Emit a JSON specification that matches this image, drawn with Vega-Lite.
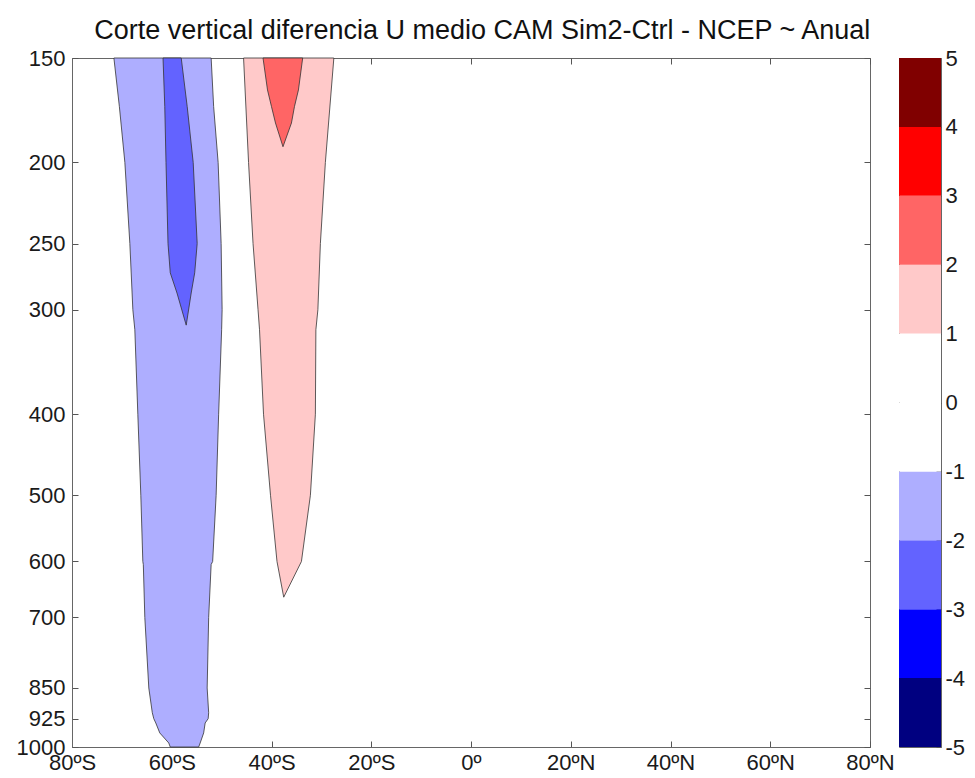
{
"$schema":"https://vega.github.io/schema/vega-lite/v6.json",
"background":"white",
"padding":{"left":15,"top":16,"right":4,"bottom":0},
"config":{"font":"Liberation Sans","view":{"stroke":"#666","strokeWidth":1},
 "axis":{"labelFont":"Liberation Sans","labelFontSize":22,"labelColor":"#1a1a1a","domainColor":"#666","tickColor":"#555","tickSize":-6,"grid":false,"title":null,"labelFlush":false,"labelOverlap":false,"labelBound":false,"zindex":1}},
"title":{"text":"Corte vertical diferencia U medio CAM Sim2-Ctrl - NCEP ~ Anual","fontSize":27,"fontWeight":"normal","color":"#111","font":"Liberation Sans","anchor":"middle","offset":2,"dx":-8},
"datasets":{
"contours":[
{"region":"A","lo":-2,"p":150,"lonW":-71.6,"lonE":-52.1},
{"region":"A","lo":-2,"p":171.5,"lonW":-70.5,"lonE":-51.6},
{"region":"A","lo":-2,"p":200,"lonW":-69.4,"lonE":-50.7},
{"region":"A","lo":-2,"p":250,"lonW":-68.4,"lonE":-50.1},
{"region":"A","lo":-2,"p":300,"lonW":-67.8,"lonE":-49.9},
{"region":"A","lo":-2,"p":317,"lonW":-67.4,"lonE":-50.0},
{"region":"A","lo":-2,"p":400,"lonW":-66.8,"lonE":-50.6},
{"region":"A","lo":-2,"p":500,"lonW":-66.2,"lonE":-51.1},
{"region":"A","lo":-2,"p":600,"lonW":-65.8,"lonE":-51.8},
{"region":"A","lo":-2,"p":605,"lonW":-65.7,"lonE":-52.1},
{"region":"A","lo":-2,"p":700,"lonW":-65.4,"lonE":-52.6},
{"region":"A","lo":-2,"p":850,"lonW":-64.6,"lonE":-52.9},
{"region":"A","lo":-2,"p":910,"lonW":-63.9,"lonE":-52.6},
{"region":"A","lo":-2,"p":925,"lonW":-63.6,"lonE":-52.7},
{"region":"A","lo":-2,"p":936,"lonW":-63.2,"lonE":-53.3},
{"region":"A","lo":-2,"p":962,"lonW":-62.4,"lonE":-53.6},
{"region":"A","lo":-2,"p":989,"lonW":-60.6,"lonE":-54.3},
{"region":"A","lo":-2,"p":1000,"lonW":-60.3,"lonE":-54.6},
{"region":"B","lo":-3,"p":150,"lonW":-61.75,"lonE":-58.1},
{"region":"B","lo":-3,"p":171.5,"lonW":-61.4,"lonE":-56.9},
{"region":"B","lo":-3,"p":200,"lonW":-61.15,"lonE":-55.7},
{"region":"B","lo":-3,"p":250,"lonW":-60.75,"lonE":-54.9},
{"region":"B","lo":-3,"p":271,"lonW":-60.3,"lonE":-55.4},
{"region":"B","lo":-3,"p":286.5,"lonW":-58.95,"lonE":-56.1},
{"region":"B","lo":-3,"p":313,"lonW":-57.1,"lonE":-57.1},
{"region":"C","lo":1,"p":150,"lonW":-45.6,"lonE":-27.5},
{"region":"C","lo":1,"p":200,"lonW":-44.6,"lonE":-29.2},
{"region":"C","lo":1,"p":250,"lonW":-43.7,"lonE":-30.2},
{"region":"C","lo":1,"p":300,"lonW":-42.7,"lonE":-30.7},
{"region":"C","lo":1,"p":317,"lonW":-42.4,"lonE":-31.1},
{"region":"C","lo":1,"p":400,"lonW":-41.6,"lonE":-31.2},
{"region":"C","lo":1,"p":500,"lonW":-40.2,"lonE":-32.2},
{"region":"C","lo":1,"p":600,"lonW":-38.9,"lonE":-34.0},
{"region":"C","lo":1,"p":662,"lonW":-37.55,"lonE":-37.55},
{"region":"D","lo":2,"p":150,"lonW":-41.7,"lonE":-33.75},
{"region":"D","lo":2,"p":163.8,"lonW":-40.8,"lonE":-34.6},
{"region":"D","lo":2,"p":171.5,"lonW":-40.0,"lonE":-35.4},
{"region":"D","lo":2,"p":179.4,"lonW":-39.2,"lonE":-36.0},
{"region":"D","lo":2,"p":191.5,"lonW":-37.7,"lonE":-37.7}
],
"bar":[
{"cb":"U","lo":-5,"hi":-4},{"cb":"U","lo":-4,"hi":-3},{"cb":"U","lo":-3,"hi":-2},{"cb":"U","lo":-2,"hi":-1},{"cb":"U","lo":-1,"hi":0},
{"cb":"U","lo":0,"hi":1},{"cb":"U","lo":1,"hi":2},{"cb":"U","lo":2,"hi":3},{"cb":"U","lo":3,"hi":4},{"cb":"U","lo":4,"hi":5}
]
},
"spacing":29,
"bounds":"flush",
"hconcat":[
{
"width":798,"height":689,
"data":{"name":"contours"},
"layer":[
{"transform":[{"filter":"datum.region==='A'"}],
 "mark":{"type":"area","orient":"horizontal","stroke":"#333","strokeWidth":0.8},
 "encoding":{
  "y":{"field":"p","type":"quantitative","scale":{"type":"log","domain":[150,1000],"reverse":true,"nice":false},
       "axis":{"orient":"left","values":[150,200,250,300,400,500,600,700,850,925,1000],"format":"d","labelPadding":13}},
  "x":{"field":"lonW","type":"quantitative","scale":{"domain":[-80,80],"nice":false,"zero":false},
       "axis":{"orient":"bottom","values":[-80,-60,-40,-20,0,20,40,60,80],"labelPadding":11,
       "labelExpr":"datum.value < 0 ? (-datum.value) + 'ºS' : (datum.value > 0 ? datum.value + 'ºN' : '0º')"}},
  "x2":{"field":"lonE"},
  "color":{"field":"lo","type":"ordinal","scale":{"domain":[-5,-4,-3,-2,-1,0,1,2,3,4],"range":["#000080","#0000ff","#6363ff","#aeaeff","#ffffff","#ffffff","#ffc9c9","#ff6565","#ff0000","#800000"]},"legend":null}
 }},
{"transform":[{"filter":"datum.region==='B'"}],
 "mark":{"type":"area","orient":"horizontal","stroke":"#333","strokeWidth":0.8},
 "encoding":{
  "y":{"field":"p","type":"quantitative","axis":null},
  "x":{"field":"lonW","type":"quantitative","axis":null},
  "x2":{"field":"lonE"},
  "color":{"field":"lo","type":"ordinal","legend":null}
 }},
{"transform":[{"filter":"datum.region==='C'"}],
 "mark":{"type":"area","orient":"horizontal","stroke":"#333","strokeWidth":0.8},
 "encoding":{
  "y":{"field":"p","type":"quantitative","axis":null},
  "x":{"field":"lonW","type":"quantitative","axis":null},
  "x2":{"field":"lonE"},
  "color":{"field":"lo","type":"ordinal","legend":null}
 }},
{"transform":[{"filter":"datum.region==='D'"}],
 "mark":{"type":"area","orient":"horizontal","stroke":"#333","strokeWidth":0.8},
 "encoding":{
  "y":{"field":"p","type":"quantitative","axis":null},
  "x":{"field":"lonW","type":"quantitative","axis":null},
  "x2":{"field":"lonE"},
  "color":{"field":"lo","type":"ordinal","legend":null}
 }},
{"mark":{"type":"point","opacity":0},
 "encoding":{
  "y":{"field":"p","type":"quantitative","axis":{"orient":"right","labels":false,"domain":false,"values":[150,200,250,300,400,500,600,700,850,925,1000]}},
  "x":{"field":"lonW","type":"quantitative","axis":{"orient":"top","labels":false,"domain":false,"values":[-80,-60,-40,-20,0,20,40,60,80]}}
 }}
],
"resolve":{"axis":{"x":"independent","y":"independent"}}
},
{
"width":42,"height":689,
"data":{"name":"bar"},
"mark":{"type":"rect"},
"encoding":{
  "x":{"field":"cb","type":"nominal","axis":null,"scale":{"paddingInner":0,"paddingOuter":0}},
  "y":{"field":"lo","type":"quantitative","scale":{"domain":[-5,5],"nice":false,"zero":false},
       "axis":{"orient":"right","values":[-5,-4,-3,-2,-1,0,1,2,3,4,5],"labelExpr":"datum.value + ''","tickSize":-5,"labelPadding":9,"domain":false,"zindex":0}},
  "y2":{"field":"hi"},
  "color":{"field":"lo","type":"ordinal","legend":null}
}
}
]
}
